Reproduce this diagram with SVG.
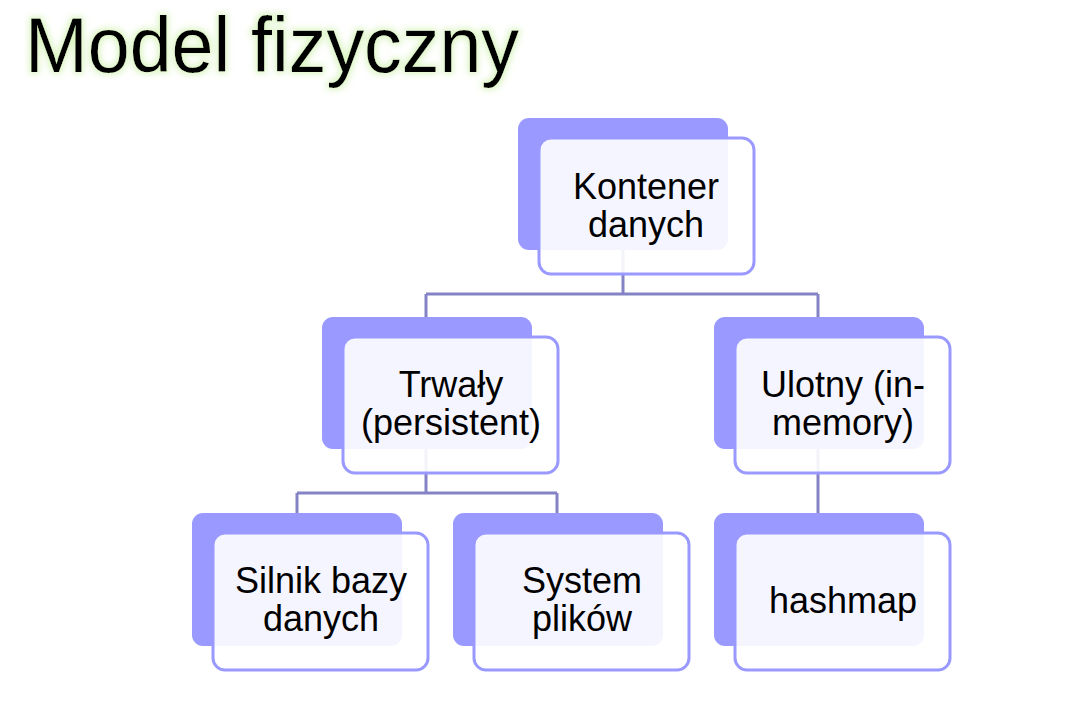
<svg xmlns="http://www.w3.org/2000/svg" width="1074" height="710" viewBox="0 0 1074 710">
  <defs>
    <filter id="glow" x="-10%" y="-30%" width="120%" height="160%">
      <feMorphology in="SourceAlpha" operator="dilate" radius="2" result="d"/>
      <feGaussianBlur in="d" stdDeviation="3" result="b"/>
      <feFlood flood-color="#d3f2b5" flood-opacity="0.8"/>
      <feComposite in2="b" operator="in" result="g"/>
      <feMerge>
        <feMergeNode in="g"/>
        <feMergeNode in="SourceGraphic"/>
      </feMerge>
    </filter>
  </defs>
  <style>
    .back { fill: #9999ff; }
    .front { fill: #ffffff; fill-opacity: 0.9; stroke: #9999ff; stroke-width: 3; }
    .lbl { font-family: "Liberation Sans", Arial, sans-serif; font-size: 36px; fill: #000000; text-anchor: middle; }
    .conn { fill: none; stroke: #8383c6; stroke-width: 3; }
    .title { font-family: "Liberation Sans", Arial, sans-serif; font-size: 78px; fill: #000000; }
  </style>
  <rect x="0" y="0" width="1074" height="710" fill="#ffffff"/>
  <text class="title" x="25" y="72" textLength="494" lengthAdjust="spacingAndGlyphs" filter="url(#glow)">Model fizyczny</text>

  <g id="connectors">
    <path class="conn" d="M623 250 V294"/>
    <path class="conn" d="M426 294 H818"/>
    <path class="conn" d="M426 294 V317"/>
    <path class="conn" d="M818 294 V317"/>
    <path class="conn" d="M426 449 V493"/>
    <path class="conn" d="M297 493 H557"/>
    <path class="conn" d="M297 493 V513"/>
    <path class="conn" d="M557 493 V513"/>
    <path class="conn" d="M818 449 V513"/>
  </g>

  <g id="node-kontener">
    <rect class="back" x="518" y="118" width="210" height="132" rx="11"/>
    <rect class="front" x="539" y="138" width="215" height="136" rx="12"/>
    <text class="lbl" x="646" y="199">Kontener</text>
    <text class="lbl" x="646" y="237">danych</text>
  </g>

  <g id="node-trwaly">
    <rect class="back" x="322" y="317" width="210" height="132" rx="11"/>
    <rect class="front" x="343" y="337" width="215" height="136" rx="12"/>
    <text class="lbl" x="451" y="397">Trwały</text>
    <text class="lbl" x="451" y="435">(persistent)</text>
  </g>

  <g id="node-ulotny">
    <rect class="back" x="714" y="317" width="210" height="132" rx="11"/>
    <rect class="front" x="735" y="337" width="215" height="136" rx="12"/>
    <text class="lbl" x="843" y="397">Ulotny (in-</text>
    <text class="lbl" x="843" y="435">memory)</text>
  </g>

  <g id="node-silnik">
    <rect class="back" x="192" y="513" width="210" height="133" rx="11"/>
    <rect class="front" x="213" y="533" width="215" height="137" rx="12"/>
    <text class="lbl" x="321" y="593">Silnik bazy</text>
    <text class="lbl" x="321" y="631">danych</text>
  </g>

  <g id="node-system">
    <rect class="back" x="453" y="513" width="210" height="133" rx="11"/>
    <rect class="front" x="474" y="533" width="215" height="137" rx="12"/>
    <text class="lbl" x="582" y="593">System</text>
    <text class="lbl" x="582" y="631">plików</text>
  </g>

  <g id="node-hashmap">
    <rect class="back" x="714" y="513" width="210" height="133" rx="11"/>
    <rect class="front" x="735" y="533" width="215" height="137" rx="12"/>
    <text class="lbl" x="843" y="613">hashmap</text>
  </g>
</svg>
